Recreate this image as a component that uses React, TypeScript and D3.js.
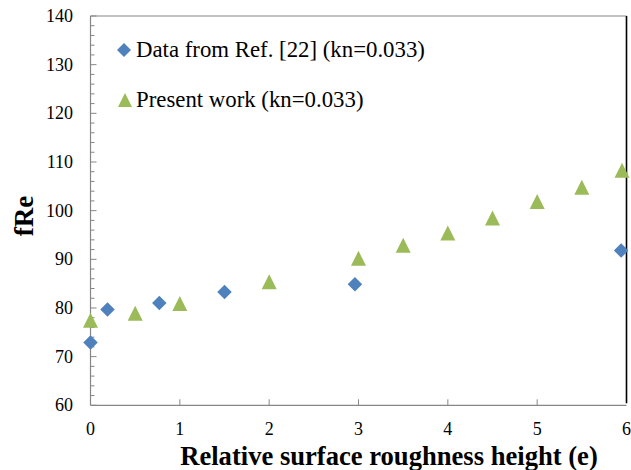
import React, { useEffect, useRef } from "react";
import * as d3 from "d3";

const refX = [0, 0.19, 0.77, 1.5, 2.96, 5.94];
const refY = [72.9, 79.7, 81.0, 83.3, 84.9, 91.8];
const presentX = [0, 0.5, 1, 2, 3, 3.5, 4, 4.5, 5, 5.5, 5.95];
const presentY = [77.5, 78.9, 80.9, 85.4, 90.2, 92.9, 95.4, 98.5, 101.9, 104.8, 108.3];
const xTicks = [0, 1, 2, 3, 4, 5, 6];
const yTicks = [60, 70, 80, 90, 100, 110, 120, 130, 140];
const legendLabels = ["Data from Ref. [22] (kn=0.033)", "Present work (kn=0.033)"];
const xTitle = "Relative surface roughness height (e)";
const yTitle = "fRe";

const W = 631;
const H = 470;
const left = 90.5;
const right = 626.5;
const top = 16;
const bottom = 405.3;
const BLUE = "#4F81BD";
const GREEN = "#9BBB59";
const AXIS = "#868686";
const FONT = "Liberation Serif";

const diamond = (s: number) => `M0,${-s / 2}L${s / 2},0L0,${s / 2}L${-s / 2},0Z`;
const triangle = (s: number) => `M0,${-s / 2}L${s / 2},${s / 2}L${-s / 2},${s / 2}Z`;

export default function App() {
  const ref = useRef<SVGGElement>(null);
  const x = d3.scaleLinear().domain([0, 6]).range([left, right]);
  const y = d3.scaleLinear().domain([60, 140]).range([bottom, top]);
  const minor = d3.range(60, 140.01, 2).filter((v) => v % 10 !== 0);

  useEffect(() => {
    const g = d3.select(ref.current);
    g.selectAll("*").remove();
    g.append("text")
      .attr("x", 136)
      .attr("y", 107)
      .attr("font-family", FONT)
      .attr("font-size", 22.8)
      .text(legendLabels[1]);
  }, []);

  return (
    <div style={{ fontFamily: "Liberation Serif" }}>
      <svg width={W} height={H} style={{ position: "absolute", left: 0, top: 0 }}>
        <style>{`.tk { font-family: "Liberation Serif", serif; font-size: 18px; }`}</style>
        <text x={136} y={57} fontSize={22.8}>
          {legendLabels[0]}
        </text>
        <g ref={ref} />
        {yTicks.map((t) => (
          <text key={"yl" + t} className="tk" x={73} y={y(t) + 6} textAnchor="end">
            {t}
          </text>
        ))}
        {xTicks.map((t) => (
          <text key={"xl" + t} className="tk" x={x(t)} y={435} textAnchor="middle">
            {t}
          </text>
        ))}
        <text x={389} y={465} textAnchor="middle" fontFamily={FONT} fontSize={26.6} fontWeight="bold" fill="#000">
          {xTitle}
        </text>
        <text transform="translate(33,216) rotate(-90)" textAnchor="middle" fontFamily={FONT} fontSize={27} fontWeight="bold" fill="#000">
          {yTitle}
        </text>
        <line x1={left} x2={right} y1={top} y2={top} stroke={AXIS} strokeWidth={1.2} />
        <line x1={right} x2={right} y1={top} y2={bottom - 2} stroke="#000" strokeWidth={1.6} />
        <line x1={left} x2={left} y1={top} y2={bottom} stroke={AXIS} strokeWidth={1.2} />
        <line x1={left} x2={right} y1={bottom} y2={bottom} stroke={AXIS} strokeWidth={1.2} />
        {yTicks.map((t) => (
          <line key={"yt" + t} x1={left} x2={left + 6} y1={y(t)} y2={y(t)} stroke={AXIS} strokeWidth={1} />
        ))}
        {minor.map((t) => (
          <line key={"ym" + t} x1={left} x2={left + 4} y1={y(t)} y2={y(t)} stroke={AXIS} strokeWidth={1} />
        ))}
        {xTicks.slice(1, -1).map((t) => (
          <line key={"xt" + t} x1={x(t)} x2={x(t)} y1={bottom} y2={bottom - 6} stroke={AXIS} strokeWidth={1} />
        ))}
        {refX.map((v, i) => (
          <path key={"r" + i} d={diamond(14.5)} transform={`translate(${x(v)},${y(refY[i])})`} fill={BLUE} />
        ))}
        {presentX.map((v, i) => (
          <path key={"p" + i} d={triangle(15)} transform={`translate(${x(v)},${y(presentY[i])})`} fill={GREEN} />
        ))}
        <path d={diamond(14)} transform="translate(124,50)" fill={BLUE} />
        <path d={triangle(14)} transform="translate(125,100)" fill={GREEN} />
      </svg>
    </div>
  );
}
